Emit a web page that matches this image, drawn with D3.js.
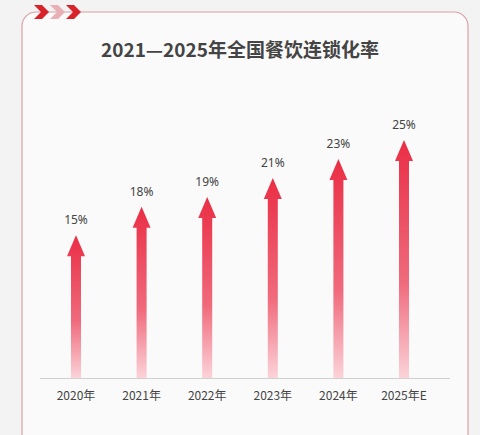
<!DOCTYPE html>
<html><head><meta charset="utf-8">
<script src="https://cdn.jsdelivr.net/npm/d3@7"></script>
<style>body{margin:0;background:#f4f4f4}</style>
</head><body><svg width="480" height="435"></svg>
<script>
var years = ["2020年","2021年","2022年","2023年","2024年","2025年E"];
var rates = [15,18,19,21,23,25];

var svg = d3.select("svg");
svg.append("rect").attr("width",480).attr("height",435).attr("fill","#f3f3f3");
svg.append("rect").attr("x",22).attr("y",12).attr("width",446).attr("height",440)
  .attr("rx",14).attr("fill","#fafafa").attr("stroke","#d9a0a6").attr("stroke-width",1.2);

// chevrons
[[34,"#d8232a"],[50,"#e8b0b4"],[66,"#d8232a"]].forEach(function(c){
  svg.append("path").attr("d","M"+c[0]+",5 L"+(c[0]+8)+",5 L"+(c[0]+15)+",12 L"+(c[0]+8)+",19 L"+c[0]+",19 L"+(c[0]+7)+",12Z")
    .attr("fill",c[1]);
});

svg.append("text").attr("x",240).attr("y",57).attr("text-anchor","middle")
  .attr("font-family","Noto Sans CJK SC").attr("font-weight","bold").attr("font-size",19)
  .attr("fill","#444").text("2021—2025年全国餐饮连锁化率");

var x = d3.scalePoint().domain(years).range([76,404]);
var y = d3.scaleLinear().domain([0,25]).range([378,140]);

var grad = svg.append("defs").append("linearGradient").attr("id","g")
  .attr("x1",0).attr("y1",0).attr("x2",0).attr("y2",1).attr("gradientUnits","objectBoundingBox");
grad.append("stop").attr("offset","0%").attr("stop-color","#ea2e45");
grad.append("stop").attr("offset","60%").attr("stop-color","#f06a7c");
grad.append("stop").attr("offset","100%").attr("stop-color","#fbd3d9");

svg.append("line").attr("x1",40).attr("x2",450).attr("y1",378.5).attr("y2",378.5)
  .attr("stroke","#d0d0d0");

var g = svg.selectAll(".arr").data(rates).enter().append("g");
g.append("path").attr("fill","url(#g)").attr("d",function(d,i){
  var cx = x(years[i]), t = y(d), b = y(0);
  return "M"+cx+","+t+" L"+(cx+9)+","+(t+21)+" L"+(cx+5)+","+(t+21)+" L"+(cx+5)+","+b+
    " L"+(cx-5)+","+b+" L"+(cx-5)+","+(t+21)+" L"+(cx-9)+","+(t+21)+"Z";
});
g.append("text").attr("x",function(d,i){return x(years[i]);}).attr("y",function(d){return y(d)-11;})
  .attr("text-anchor","middle").attr("font-family","Noto Sans").attr("font-size",12)
  .attr("fill","#444").text(function(d){return d+"%";});

svg.selectAll(".yl").data(years).enter().append("text")
  .attr("x",function(d){return x(d);}).attr("y",400).attr("text-anchor","middle")
  .attr("font-family","Noto Sans CJK SC").attr("font-size",12).attr("fill","#444").text(function(d){return d;});
</script></body></html>
